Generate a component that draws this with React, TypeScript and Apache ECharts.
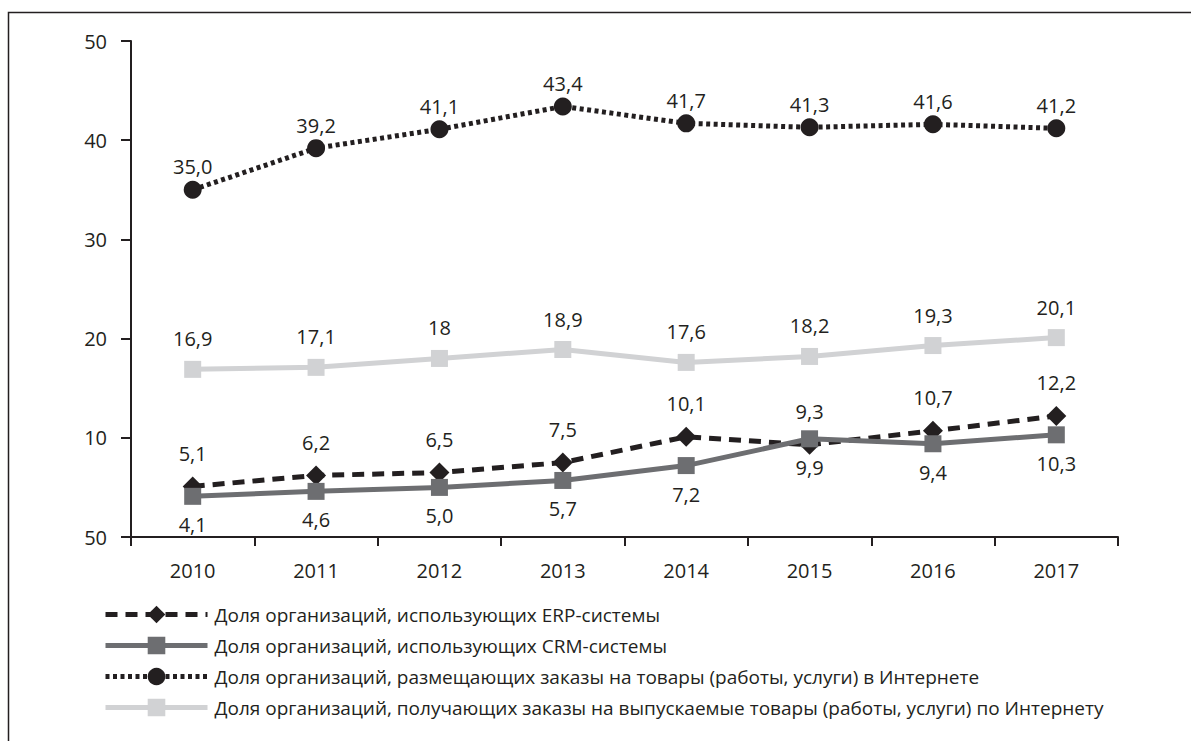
import React, { useEffect, useRef } from "react";
import * as echarts from "echarts";

const years = ["2010", "2011", "2012", "2013", "2014", "2015", "2016", "2017"];
const erp = [5.1, 6.2, 6.5, 7.5, 10.1, 9.3, 10.7, 12.2];
const crm = [4.1, 4.6, 5.0, 5.7, 7.2, 9.9, 9.4, 10.3];
const ordersPlaced = [35.0, 39.2, 41.1, 43.4, 41.7, 41.3, 41.6, 41.2];
const ordersReceived = [16.9, 17.1, 18, 18.9, 17.6, 18.2, 19.3, 20.1];
const names = [
  "Доля организаций, использующих ERP-системы",
  "Доля организаций, использующих CRM-системы",
  "Доля организаций, размещающих заказы на товары (работы, услуги) в Интернете",
  "Доля организаций, получающих заказы на выпускаемые товары (работы, услуги) по Интернету",
];

const FONT = "'Open Sans', sans-serif";
const INK = "#231f20";

const fixed1 = (p: any) => Number(p.value).toFixed(1).replace(".", ",");
const plain = (p: any) => String(p.value).replace(".", ",");

export default function App() {
  const ref = useRef<HTMLDivElement>(null);
  useEffect(() => {
    document.body.style.margin = "0";
    document.body.style.overflow = "hidden";
    const chart = echarts.init(ref.current!, null, { renderer: "svg" });
    const lbl = (pos: string, dist: number, fmt: any) => ({
      show: true,
      position: pos,
      distance: dist,
      formatter: fmt,
      color: INK,
      fontFamily: FONT,
      fontSize: 20,
    });
    chart.setOption({
      animation: false,
      backgroundColor: "#ffffff",
      textStyle: { fontFamily: FONT, color: INK },
      graphic: [
        {
          type: "rect",
          shape: { x: 8.5, y: 12.5, width: 1300, height: 900 },
          style: { fill: "none", stroke: INK, lineWidth: 1.5 },
          silent: true,
        },
      ],
      grid: { left: 131, right: 73, top: 41, bottom: 204, containLabel: false },
      legend: {
        orient: "vertical",
        left: 98,
        top: 597,
        itemWidth: 102,
        itemHeight: 22,
        itemGap: 6,
        lineStyle: { width: 5 },
        textStyle: { fontFamily: FONT, fontSize: 19, color: INK, padding: [0, 0, 0, 2], lineHeight: 25 },
        data: names,
      },
      xAxis: {
        type: "category",
        data: years,
        boundaryGap: true,
        axisLine: { lineStyle: { color: INK, width: 2 } },
        axisTick: { show: true, length: 9, inside: false, lineStyle: { color: INK, width: 2 } },
        axisLabel: { color: INK, fontFamily: FONT, fontSize: 20, margin: 23 },
        splitLine: { show: false },
      },
      yAxis: {
        type: "value",
        min: 0,
        max: 50,
        interval: 10,
        axisLine: { show: true, lineStyle: { color: INK, width: 2 } },
        axisTick: { show: true, length: 10, lineStyle: { color: INK, width: 2 } },
        axisLabel: {
          color: INK,
          fontFamily: FONT,
          fontSize: 20,
          margin: 24,
          formatter: (v: number) => (v === 0 ? "50" : String(v)),
        },
        splitLine: { show: false },
      },
      series: [
        {
          name: names[0],
          type: "line",
          data: erp,
          symbol: "diamond",
          symbolSize: 20,
          lineStyle: { color: INK, width: 5, type: [12, 8] },
          itemStyle: { color: INK },
          label: lbl("top", 13, fixed1),
        },
        {
          name: names[1],
          type: "line",
          data: crm,
          symbol: "rect",
          symbolSize: 17,
          lineStyle: { color: "#6d6e71", width: 5 },
          itemStyle: { color: "#6d6e71" },
          label: lbl("bottom", 10, fixed1),
        },
        {
          name: names[2],
          type: "line",
          data: ordersPlaced,
          symbol: "circle",
          symbolSize: 18,
          lineStyle: { color: INK, width: 5, type: [4, 3.5] },
          itemStyle: { color: INK },
          label: lbl("top", 4, fixed1),
        },
        {
          name: names[3],
          type: "line",
          data: ordersReceived,
          symbol: "rect",
          symbolSize: 17,
          lineStyle: { color: "#d1d2d4", width: 5 },
          itemStyle: { color: "#d1d2d4" },
          label: lbl("top", 12, plain),
        },
      ],
    });
    return () => chart.dispose();
  }, []);
  return <div ref={ref} style={{ width: 1191, height: 741 }} />;
}
